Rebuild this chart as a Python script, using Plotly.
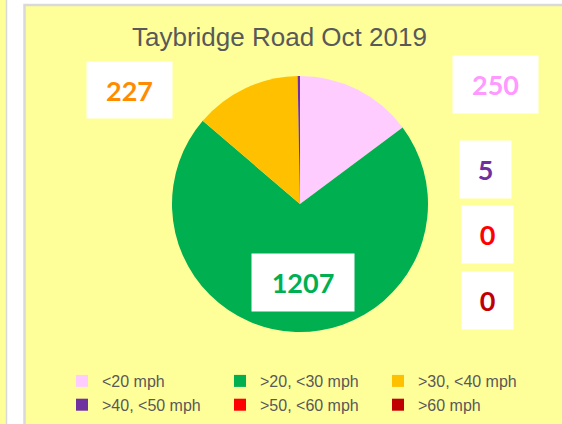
import plotly.graph_objects as go

W, H = 562, 424

labels = ["<20 mph", ">20, <30 mph", ">30, <40 mph", ">40, <50 mph", ">50, <60 mph", ">60 mph"]
values = [250, 1207, 227, 5, 0, 0]
slice_colors = ["#FFCCFF", "#00B050", "#FFC000", "#7030A0", "#FF0000", "#C00000"]
label_colors = ["#FF99FF", "#00B050", "#FF8C00", "#7030A0", "#FF0000", "#C00000"]
title_text = "Taybridge Road Oct 2019"

# label box layout (pixel centre x, centre y, width, height)
label_boxes = [
    (495.5, 84.5, 85, 57),
    (303, 282.5, 102, 57),
    (129.5, 90, 85, 56),
    (485.5, 169.5, 51, 57),
    (487.5, 234.5, 51, 57),
    (487.5, 300, 51, 57),
]

def px(x):
    return x / W

def py(y):
    return 1 - y / H

fig = go.Figure()
fig.add_trace(go.Pie(
    labels=labels,
    values=values,
    sort=False,
    direction="clockwise",
    rotation=0,
    marker=dict(colors=slice_colors, line=dict(width=0)),
    textinfo="none",
    hoverinfo="skip",
    domain=dict(x=[px(172), px(428)], y=[py(332), py(76)]),
))

annotations = []
for v, c, (cx, cy, bw, bh) in zip(values, label_colors, label_boxes):
    annotations.append(dict(
        x=px(cx), y=py(cy), xref="paper", yref="paper",
        xanchor="center", yanchor="middle",
        text=f"<b>{v}</b>", showarrow=False,
        font=dict(family="Lato", size=27, color=c),
        bgcolor="#FFFFFF", width=bw, height=bh, borderpad=0,
        align="center", valign="middle",
    ))
annotations.append(dict(
    x=px(279), y=py(37), xref="paper", yref="paper",
    xanchor="center", yanchor="middle", showarrow=False,
    text=title_text,
    font=dict(family="Liberation Sans", size=26, color="#595959"),
))

shapes = [
    dict(type="rect", xref="paper", yref="paper", layer="below",
         x0=px(-20), x1=px(6.5), y0=py(440), y1=py(-20),
         fillcolor="#FFFF99", line=dict(color="#D9D9D9", width=1.5)),
    dict(type="rect", xref="paper", yref="paper", layer="below",
         x0=px(24.5), x1=px(600), y0=py(440), y1=py(5),
         fillcolor="#FFFF99", line=dict(color="#D9D9D9", width=2.5)),
]

fig.update_layout(
    width=W, height=H,
    margin=dict(l=0, r=0, t=0, b=0),
    paper_bgcolor="#FFFFFF",
    plot_bgcolor="#FFFFFF",
    showlegend=True,
    legend=dict(
        orientation="h", x=px(62), y=py(364), xanchor="left", yanchor="top",
        entrywidth=113, entrywidthmode="pixels",
        font=dict(family="Liberation Sans", size=16, color="#595959"),
        bgcolor="rgba(0,0,0,0)", traceorder="normal",
    ),
    annotations=annotations,
    shapes=shapes,
)

fig.write_html("out.html")
